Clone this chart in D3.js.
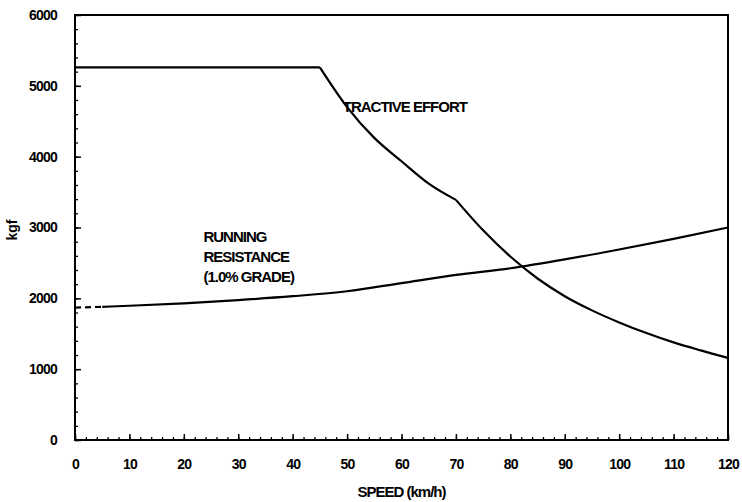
<!DOCTYPE html>
<html>
<head>
<meta charset="utf-8">
<script src="https://cdn.jsdelivr.net/npm/d3@7"></script>
<style>
  body { margin: 0; background: #fff; }
  svg { display: block; font-family: "Liberation Sans", Arial, sans-serif; }
</style>
</head>
<body>
<svg id="chart" width="742" height="502"></svg>
<script>
// Tractive effort / running resistance vs speed
const TE_SPEED = [0, 45, 50, 55, 60, 65, 70, 75, 80, 85, 90, 95, 100, 105, 110, 115, 120];
const TE_KGF   = [5260, 5260, 4700, 4265, 3935, 3620, 3390, 2960, 2590, 2280, 2030, 1830, 1660, 1510, 1378, 1265, 1160];
const TE_KINKS = [45, 70]; // speeds where the curve has a corner

const RR_SPEED = [0, 5, 10, 20, 30, 40, 50, 60, 70, 80, 90, 100, 110, 120];
const RR_KGF   = [1870, 1880, 1895, 1930, 1975, 2030, 2100, 2215, 2330, 2425, 2550, 2690, 2840, 3000];
const RR_DASHED_TO = 5; // speed where the dashed part ends

const X_TICKS = [0, 10, 20, 30, 40, 50, 60, 70, 80, 90, 100, 110, 120];
const Y_TICKS = [0, 1000, 2000, 3000, 4000, 5000, 6000];

const margin = { top: 15, right: 14, bottom: 62, left: 75 };
const width = 742, height = 502;
const w = width - margin.left - margin.right;
const h = height - margin.top - margin.bottom;

const svg = d3.select('#chart');
const g = svg.append('g').attr('transform', `translate(${margin.left},${margin.top})`);

const x = d3.scaleLinear().domain([0, 120]).range([0, w]);
const y = d3.scaleLinear().domain([0, 6000]).range([h, 0]);

const styleLabels = a => a.selectAll('text').attr('fill', '#000').attr('font-size', '14px')
  .attr('font-weight', 'bold').attr('letter-spacing', '-0.8px');

// minor + major ticks, pointing inward
g.append('g').attr('transform', `translate(0,${h})`)
  .call(d3.axisBottom(x).tickValues(d3.range(0, 121, 2)).tickSize(-3).tickFormat(''))
  .call(a => a.select('.domain').remove())
  .selectAll('line').attr('stroke', '#000').attr('stroke-width', 1.3);
g.append('g').attr('transform', `translate(0,${h})`)
  .call(d3.axisBottom(x).tickValues(X_TICKS).tickSize(-6).tickPadding(19).tickFormat(d3.format('d')))
  .call(a => a.select('.domain').remove())
  .call(a => a.selectAll('line').attr('stroke', '#000').attr('stroke-width', 1.5))
  .call(styleLabels);

g.append('g')
  .call(d3.axisLeft(y).tickValues(d3.range(0, 6001, 200)).tickSize(-3).tickFormat(''))
  .call(a => a.select('.domain').remove())
  .selectAll('line').attr('stroke', '#000').attr('stroke-width', 1.3);
g.append('g')
  .call(d3.axisLeft(y).tickValues(Y_TICKS).tickSize(-6).tickPadding(18).tickFormat(d3.format('d')))
  .call(a => a.select('.domain').remove())
  .call(a => a.selectAll('line').attr('stroke', '#000').attr('stroke-width', 1.5))
  .call(styleLabels);

// frame
g.append('rect').attr('x', 0).attr('y', 0).attr('width', w).attr('height', h)
  .attr('fill', 'none').attr('stroke', '#000').attr('stroke-width', 2);

const line = d3.line().x(d => x(d[0])).y(d => y(d[1])).curve(d3.curveMonotoneX);
const drawCurve = (pts, dash) => g.append('path').attr('d', line(pts))
  .attr('fill', 'none').attr('stroke', '#000').attr('stroke-width', 2.2)
  .attr('stroke-linejoin', 'round').attr('stroke-dasharray', dash || null);

// tractive effort, smooth between the corners
const te = TE_SPEED.map((s, i) => [s, TE_KGF[i]]);
const bounds = [0, ...TE_KINKS, 120];
for (let i = 0; i < bounds.length - 1; i++) {
  drawCurve(te.filter(d => d[0] >= bounds[i] && d[0] <= bounds[i + 1]));
}

const rr = RR_SPEED.map((s, i) => [s, RR_KGF[i]]);
drawCurve(rr.filter(d => d[0] <= RR_DASHED_TO), '6,4');
drawCurve(rr.filter(d => d[0] >= RR_DASHED_TO));

// annotations
const note = (tx, ty, str) => g.append('text').attr('x', tx).attr('y', ty)
  .attr('font-size', '15px').attr('font-weight', 'bold').attr('letter-spacing', '-1px')
  .attr('fill', '#000').text(str);
note(x(49.2), y(4630), 'TRACTIVE EFFORT');
note(x(23.6), y(2790), 'RUNNING');
note(x(23.6), y(2510), 'RESISTANCE');
note(x(23.6), y(2230), '(1.0% GRADE)');

// axis titles
svg.append('text').attr('x', margin.left + x(60)).attr('y', 497)
  .attr('text-anchor', 'middle').attr('font-size', '15px').attr('font-weight', 'bold')
  .attr('letter-spacing', '-1px').attr('fill', '#000').text('SPEED (km/h)');
svg.append('text').attr('transform', 'translate(17,230) rotate(-90)')
  .attr('text-anchor', 'middle').attr('font-size', '14px').attr('font-weight', 'bold')
  .attr('fill', '#000').text('kgf');
</script>
</body>
</html>
